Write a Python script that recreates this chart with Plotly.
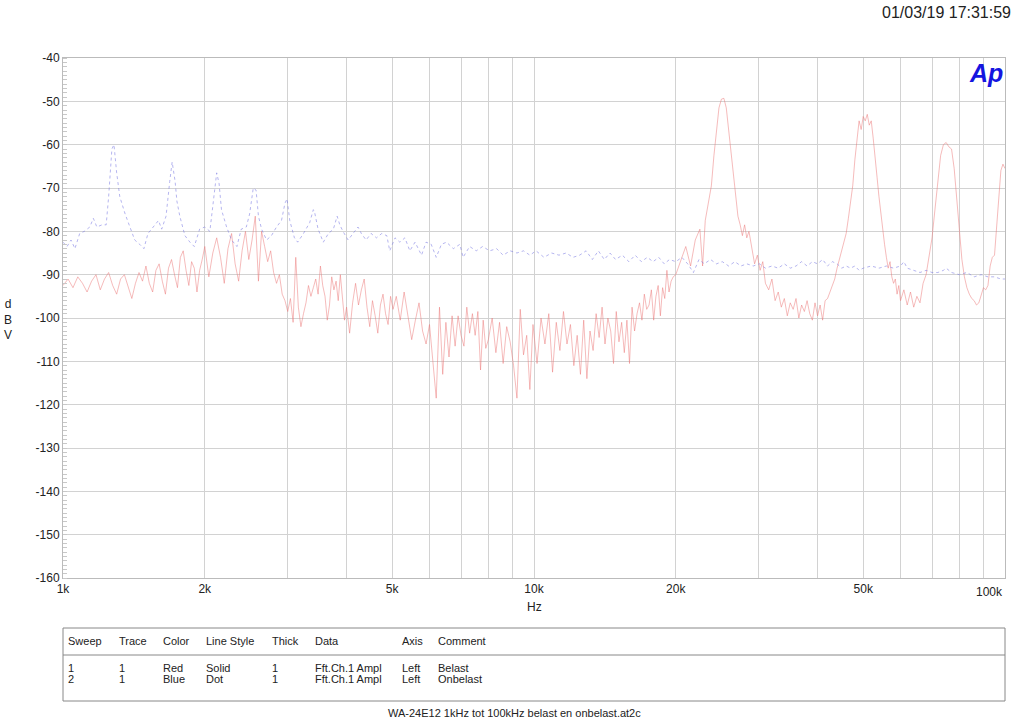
import plotly.graph_objects as go

# Sweep 1 - Belast (red, solid)
red_hz = [
    1000, 1025, 1050, 1075, 1100, 1125, 1150, 1175, 1200, 1225, 1250, 1275, 1300, 1325,
    1350, 1375, 1400, 1425, 1450, 1475, 1500, 1525, 1550, 1575, 1600, 1625, 1650, 1675,
    1700, 1725, 1750, 1775, 1800, 1825, 1850, 1875, 1900, 1925, 1950, 1975, 2000,
    2040, 2080, 2120, 2160, 2200, 2240, 2280, 2320, 2360, 2400, 2440, 2480, 2520, 2560,
    2600, 2640, 2680, 2720, 2760, 2800, 2840, 2880, 2920, 2960, 3000,
    3040, 3080, 3120, 3160, 3200, 3240, 3280, 3320, 3360, 3400, 3440, 3480, 3520, 3560,
    3600, 3640, 3680, 3720, 3760, 3800, 3840, 3880, 3920, 3960, 4000,
    4060, 4120, 4180, 4240, 4300, 4360, 4420, 4480, 4540, 4600, 4660, 4720, 4780, 4840,
    4900, 4960, 5020,
    5100, 5200, 5300, 5400, 5500, 5600, 5700, 5800, 5900, 6000, 6100, 6200, 6300, 6400,
    6500, 6600, 6700, 6800, 6900, 7000, 7100, 7200, 7300, 7400, 7500, 7600, 7700, 7800,
    7900, 8000, 8150, 8300, 8450, 8600, 8750, 8900, 9050, 9200, 9350, 9500, 9650, 9800,
    9950,
    10150, 10350, 10550, 10750, 10950, 11150, 11350, 11550, 11750, 11950, 12150, 12350,
    12550, 12750, 12950, 13150, 13350, 13550, 13750, 13950, 14150, 14350, 14550, 14750,
    14950, 15150, 15350, 15550, 15750, 15950, 16150, 16350, 16550, 16750, 16950, 17150,
    17350, 17550, 17750, 17950, 18150, 18350, 18550, 18750, 18950, 19150, 19350, 19550,
    19750, 20000,
    20500, 21000, 21500, 22000, 22500, 22800, 23100, 23500, 23800, 24100, 24400, 24700,
    25000, 25300, 25600, 25900, 26200, 26500, 26800, 27100, 27400, 27700, 28000, 28300,
    28600, 29000, 29400, 29800, 30200, 30600, 31000, 31500, 32000, 32500, 33000, 33500,
    34000, 34500, 35000, 35500, 36000, 36500, 37000, 37500, 38000, 38500, 39000, 39500,
    40000, 40500, 41000, 41500, 42000, 42500, 43000, 43500, 44000, 44500, 45000, 45500,
    46000, 46500, 47000, 47500, 48000, 48500, 49000, 49500, 50000, 50500, 51000, 51500,
    52000, 52500, 53000, 53500, 54000, 54500, 55000, 55500, 56000, 56500, 57000, 57500,
    58000, 58500, 59000, 59500, 60000, 61000, 62000, 63000, 64000, 65000, 66000, 67000,
    68000, 69000, 70000, 71000, 72000, 73000, 74000, 75000, 76000, 77000, 78000, 79000,
    80000, 81000, 82000, 83000, 84000, 85000, 86000, 87000, 88000, 89000, 90000, 91000,
    92000, 93000, 94000, 95000, 96000, 97000, 98000, 99000, 100000,
]
red_db = [
    -92.5, -91.0, -93.0, -90.5, -92.0, -94.0, -91.5, -90.0, -93.5, -91.0, -89.5, -92.5, -94.5, -91.0,
    -90.0, -93.0, -95.5, -92.0, -89.5, -91.5, -88.0, -92.0, -94.0, -89.0, -87.5, -91.5, -94.5, -88.5,
    -86.5, -90.0, -93.0, -86.0, -84.5, -89.0, -92.5, -87.0, -88.5, -94.0, -89.0, -86.5, -83.5,
    -90.5, -85.0, -81.5, -86.0, -92.0, -84.0, -80.5, -87.5, -91.5, -84.5, -80.0, -86.5, -82.0, -76.5,
    -91.5, -80.0, -83.5, -87.0, -84.5, -89.5, -92.0, -90.0, -94.5, -96.0, -98.5,
    -95.5, -101.0, -86.0, -97.5, -102.0, -99.0, -96.5, -92.5, -95.0, -93.0, -91.0, -94.5, -88.0, -92.5,
    -95.0, -100.5, -97.0, -90.5, -93.5, -91.5, -96.0, -90.0, -94.5, -100.5, -97.5,
    -103.5, -96.5, -92.0, -97.0, -93.5, -91.0, -97.5, -102.0, -96.0, -99.5, -103.5, -97.0, -94.5, -99.0,
    -101.5, -95.0, -98.0,
    -95.0, -100.5, -94.0, -99.5, -105.0, -100.5, -96.5, -103.0, -106.0, -101.5, -111.0, -118.5, -97.5, -113.0,
    -101.0, -109.0, -99.5, -106.5, -99.5, -104.0, -106.5, -97.5, -103.5, -99.0, -104.0, -98.5, -112.0, -100.5,
    -107.0, -105.0, -100.0, -108.0, -101.0, -110.5, -102.0, -105.5, -111.0, -118.5, -98.0, -108.5, -104.0, -116.5,
    -101.5,
    -110.5, -100.0, -106.0, -99.0, -112.5, -101.0, -107.5, -98.5, -106.0, -101.5, -111.0, -104.0,
    -113.0, -100.5, -114.0, -103.0, -107.5, -99.0, -104.5, -97.5, -106.0, -100.0, -103.0, -110.5,
    -98.5, -105.5, -101.0, -108.0, -100.5, -110.5, -97.5, -103.0, -99.0, -96.5, -100.5, -94.5,
    -98.0, -97.0, -93.5, -100.5, -95.0, -92.5, -99.5, -93.0, -95.5, -89.0, -94.0, -91.5,
    -90.5, -90.0,
    -86.5, -83.5, -88.0, -82.0, -79.5, -88.0, -77.5, -73.0, -69.5, -62.5, -56.0, -51.5,
    -49.5, -49.3, -51.5, -56.5, -62.0, -66.0, -71.5, -76.5, -78.5, -81.0, -78.5, -81.5,
    -80.0, -84.0, -87.5, -85.5, -89.0, -87.0, -92.0, -93.5, -91.0, -96.0, -94.0, -97.5,
    -95.5, -99.5, -96.5, -98.0, -95.5, -100.0, -97.0, -98.5, -96.0, -99.0, -100.5, -96.5,
    -99.5, -97.0, -100.5, -96.0, -95.5, -94.0, -92.5, -91.0, -88.5, -86.5, -84.0, -82.5,
    -80.5, -77.0, -73.5, -69.5, -63.5, -58.0, -54.5, -56.5, -53.5, -54.5, -53.0, -55.5,
    -54.5, -58.5, -62.5, -67.5, -72.0, -76.0, -80.0, -83.0, -86.0, -88.5, -87.0, -90.5,
    -92.0, -91.0, -94.5, -92.5, -96.0, -93.5, -97.0, -94.0, -97.5, -95.0, -96.5, -92.0,
    -90.0, -86.0, -81.5, -75.0, -68.5, -62.5, -60.0, -59.5, -60.5, -61.0, -65.5, -72.5,
    -80.5, -86.5, -90.5, -93.0, -94.5, -95.5, -96.0, -97.0, -96.5, -95.0, -93.0, -93.5,
    -92.5, -88.0, -86.0, -85.5, -79.0, -72.0, -66.0, -64.5, -65.5,
]

# Sweep 2 - Onbelast (blue, dot)
blue_hz = [
    1000, 1020, 1040, 1060, 1085, 1110, 1140, 1160, 1180, 1210, 1235, 1250, 1270, 1283,
    1300, 1320, 1355, 1390, 1420, 1455, 1485, 1515, 1555, 1595, 1620, 1655, 1685, 1705,
    1730, 1745, 1770, 1815, 1860, 1900, 1950, 2000, 2050, 2090, 2120, 2145, 2170, 2225,
    2280, 2340, 2390, 2450, 2490, 2535, 2570, 2600, 2640, 2705, 2770, 2840, 2910, 2960,
    2990, 3030, 3100, 3150, 3240, 3340, 3400, 3420, 3480, 3570, 3660, 3750, 3820, 3870,
    3930, 4030, 4130, 4230, 4300, 4400, 4510, 4630, 4750, 4870, 4940, 5070, 5190, 5320,
    5450, 5590, 5770, 5900, 6050, 6200, 6360, 6520, 6740, 6960, 7070, 7300, 7540, 7780,
    8050, 8330, 8600, 8900, 9200, 9500, 9800, 10100, 10500, 10900, 11300, 11700, 12100,
    12500, 12900, 13300, 13700, 14100, 14500, 14900, 15400, 15900, 16400, 16900, 17400,
    17900, 18400, 18900, 19400, 20000, 20600, 21200, 21800, 22400, 23000, 23700, 24400,
    25100, 25900, 26700, 27500, 28300, 29200, 30100, 31000, 32000, 33000, 34000, 35000,
    36000, 37000, 38000, 39000, 40000, 41000, 42000, 43000, 44000, 45000, 46000, 47000,
    48000, 49000, 50000, 52000, 54000, 56000, 58000, 60000, 61000, 62000, 64000, 66000,
    68000, 70000, 72000, 74000, 75000, 77000, 80000, 83000, 86000, 89000, 92000, 95000,
    98000, 100000,
]
blue_db = [
    -82.5, -83.5, -82.0, -84.0, -80.5, -80.0, -79.0, -77.0, -79.0, -78.5, -78.5, -72.0, -61.0, -60.0,
    -66.5, -72.0, -76.0, -79.5, -82.0, -83.0, -84.0, -80.5, -79.0, -77.5, -79.5, -76.5, -68.5, -64.0,
    -68.5, -73.0, -76.5, -81.0, -82.5, -83.5, -79.5, -79.0, -80.0, -72.0, -66.5, -69.0, -75.0, -79.0,
    -82.0, -83.5, -79.5, -79.0, -76.0, -70.0, -70.5, -76.5, -79.5, -82.0, -81.0, -79.0, -77.5, -73.5,
    -72.5, -77.5, -81.5, -82.5, -80.5, -78.0, -75.0, -75.5, -79.5, -82.5, -80.5, -79.5, -76.5, -78.5,
    -80.0, -82.0, -80.5, -79.0, -80.5, -82.0, -80.5, -81.5, -80.5, -81.0, -84.5, -81.5, -82.5, -81.5,
    -84.5, -82.5, -85.5, -82.5, -83.0, -86.0, -83.0, -82.5, -84.0, -83.0, -86.0, -83.5, -84.5, -83.5,
    -84.5, -84.0, -85.5, -84.5, -85.0, -84.5, -85.5, -84.5, -86.0, -85.0, -85.5, -85.0, -86.0,
    -85.5, -84.5, -86.5, -84.5, -86.5, -85.0, -86.5, -85.5, -87.0, -85.5, -87.0, -86.0,
    -87.0, -86.0, -87.5, -86.5, -87.0, -86.0, -87.5, -89.5, -86.5, -87.5, -86.5, -87.5,
    -87.0, -88.0, -87.0, -88.0, -87.5, -88.0, -87.5, -88.5, -88.0, -88.5, -87.5, -88.5,
    -88.0, -87.0, -88.0, -87.0, -87.5, -86.5, -88.0, -87.0, -87.5, -88.5, -88.0, -88.5,
    -88.0, -89.0, -88.5, -88.0, -88.5, -88.0, -88.5, -88.0, -87.0, -88.5, -89.0, -89.5,
    -89.0, -89.5, -89.5, -89.0, -88.5, -89.5, -90.0, -89.5, -90.5, -90.0, -90.5, -90.5,
    -91.0, -91.0,
]

# axis ticks
x_grid = [1000, 2000, 3000, 4000, 5000, 6000, 7000, 8000, 9000, 10000,
          20000, 30000, 40000, 50000, 60000, 70000, 80000, 90000, 100000]
x_text = ["1k", "2k", "", "", "5k", "", "", "", "", "10k",
          "20k", "", "", "50k", "", "", "", "", ""]
y_ticks = [-40, -50, -60, -70, -80, -90, -100, -110, -120, -130, -140, -150, -160]
y_text = ["-40", "-50", "-60", "-70", "-80", "-90", "-100", "-110", "-120",
          "-130", "-140", "-150", "-160"]

# legend table
table_cols = ["Sweep", "Trace", "Color", "Line Style", "Thick", "Data", "Axis", "Comment"]
table_rows = [
    ["1", "1", "Red", "Solid", "1", "Fft.Ch.1 Ampl", "Left", "Belast"],
    ["2", "1", "Blue", "Dot", "1", "Fft.Ch.1 Ampl", "Left", "Onbelast"],
]
col_px = [66, 117, 161, 204, 270, 313, 400, 436]

FONT = "Liberation Sans, Arial, Helvetica, sans-serif"
W, H = 1024, 724
L, R, T, B = 63, 19, 58, 146
PW, PH = W - L - R, H - T - B


def px(xp):
    return (xp - L) / PW


def py(yp):
    return (H - B - yp) / PH


fig = go.Figure()
fig.add_trace(go.Scatter(x=red_hz, y=red_db, mode="lines", name="Belast",
                         line=dict(color="rgba(235,120,120,0.5)", width=1)))
fig.add_trace(go.Scatter(x=blue_hz, y=blue_db, mode="lines", name="Onbelast",
                         line=dict(color="rgba(120,120,225,0.55)", width=1, dash="dot")))

fig.update_layout(
    width=W, height=H,
    margin=dict(l=L, r=R, t=T, b=B),
    plot_bgcolor="white", paper_bgcolor="white",
    showlegend=False,
    font=dict(family=FONT, size=12, color="#222"),
    xaxis=dict(type="log", range=[3, 5], tickvals=x_grid, ticktext=x_text,
               showgrid=True, gridcolor="#d2d2d2", gridwidth=1,
               showline=True, linecolor="#bbbbbb", mirror=True,
               ticks="", tickfont=dict(size=12), zeroline=False),
    yaxis=dict(range=[-160, -40], tickvals=y_ticks, ticktext=y_text,
               showgrid=True, gridcolor="#d2d2d2", gridwidth=1,
               showline=True, linecolor="#bbbbbb", mirror=True,
               ticks="", tickfont=dict(size=12), zeroline=False,
               minor=dict(dtick=1, ticks="inside", ticklen=4,
                          tickcolor="#c8c8c8", showgrid=False)),
)

ann = []
ann.append(dict(x=1, y=py(592), xref="paper", yref="paper", text="100k",
                showarrow=False, xanchor="right", yanchor="middle", font=dict(size=12)))
ann.append(dict(x=0.5, y=py(607), xref="paper", yref="paper", text="Hz",
                showarrow=False, xanchor="center", yanchor="middle", font=dict(size=12)))
ann.append(dict(x=px(8), y=py(319), xref="paper", yref="paper", text="d<br>B<br>V",
                showarrow=False, xanchor="center", yanchor="middle", font=dict(size=12)))
ann.append(dict(x=px(1013), y=py(12), xref="paper", yref="paper", text="01/03/19 17:31:59",
                showarrow=False, xanchor="right", yanchor="middle", font=dict(size=16)))
ann.append(dict(x=px(986), y=py(73), xref="paper", yref="paper", text="<b><i>Ap</i></b>",
                showarrow=False, xanchor="center", yanchor="middle",
                font=dict(size=25, color="#1515e0")))

for name, xp in zip(table_cols, col_px):
    ann.append(dict(x=px(xp), y=py(641), xref="paper", yref="paper", text=name,
                    showarrow=False, xanchor="left", yanchor="middle", font=dict(size=11)))
for row, yp in zip(table_rows, [668, 679]):
    for cell, xp in zip(row, col_px):
        ann.append(dict(x=px(xp), y=py(yp), xref="paper", yref="paper", text=cell,
                        showarrow=False, xanchor="left", yanchor="middle", font=dict(size=11)))
ann.append(dict(x=px(514), y=py(713), xref="paper", yref="paper",
                text="WA-24E12 1kHz tot 100kHz belast en onbelast.at2c",
                showarrow=False, xanchor="center", yanchor="middle", font=dict(size=11)))
fig.update_layout(annotations=ann)

fig.add_shape(type="rect", xref="paper", yref="paper",
              x0=0, x1=1, y0=py(701), y1=py(628),
              line=dict(color="#888888", width=1))
fig.add_shape(type="line", xref="paper", yref="paper",
              x0=0, x1=1, y0=py(655), y1=py(655),
              line=dict(color="#888888", width=1))

# page body has a default 8px margin, drop it so the figure fills the window
fig.write_html("out.html", config={"displayModeBar": False},
               post_script="document.body.style.margin='0';")
